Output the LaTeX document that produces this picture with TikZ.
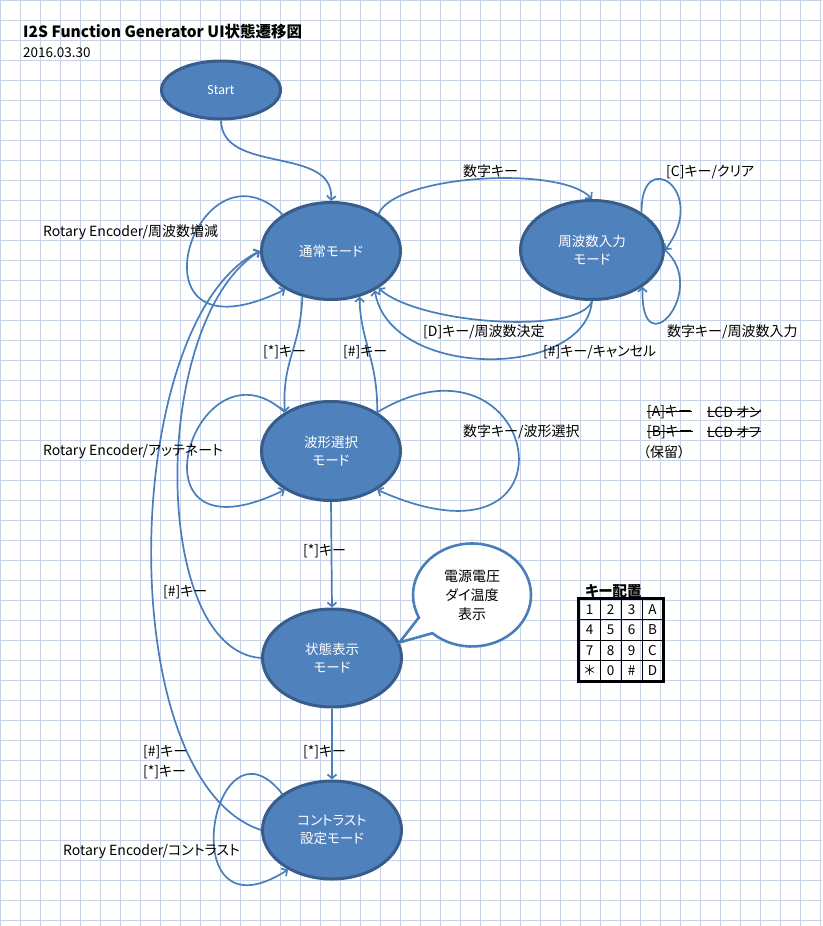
\documentclass[tikz,border=0pt]{standalone}
\usepackage{fontspec}
\setmainfont[RawFeature=+palt]{Noto Sans CJK JP}
\newfontfamily\startfont{Carlito}
\usetikzlibrary{shapes,shapes.geometric,shapes.callouts,arrows.meta,positioning}

\definecolor{gridblue}{HTML}{C8D2E6}
\definecolor{statefill}{HTML}{4F81BD}
\definecolor{stateline}{HTML}{385D8A}
\definecolor{linkblue}{HTML}{4A7EBB}

\newcommand\struck[1]{\setbox0\hbox{#1}\rlap{\rule[0.36em]{\wd0}{0.8pt}}\box0}

\begin{document}
\begin{tikzpicture}[x=1pt, y=-1pt,
        statenode/.style={ellipse, draw=stateline, fill=statefill, line width=3pt, text=white, inner sep=0pt, align=center, font=\fontsize{13.5}{18.6}\selectfont},
        link/.style={draw=linkblue, line width=1.7pt, -{Straight Barb[length=4pt,width=9pt]}},
        linklabel/.style={anchor=west, inner sep=0pt, font=\fontsize{14}{15}\selectfont},
        balloon/.style={ellipse callout, draw=linkblue, line width=2.6pt, fill=white, inner sep=0pt, align=center, font=\fontsize{14}{19}\selectfont},
        keycell/.style={draw, line width=0.9pt, minimum width=21pt, minimum height=20.5pt, inner sep=0pt, font=\fontsize{13.5}{15}\selectfont},
        ]

    % Background
    \useasboundingbox (0,0) rectangle (822,926);
    \fill[white] (0,0) rectangle (822,926);
    \draw[gridblue, line width=1pt] (0pt,-926pt) grid[step=20pt] (822pt,0pt);

    % Title
    \node[linklabel, font=\fontsize{15.5}{16}\selectfont\bfseries] (title) at (23,32) {I2S Function Generator UI状態遷移図};
    \node[linklabel, font=\fontsize{13.5}{15}\selectfont] (date) at (23,53) {2016.03.30};

    % Nodes
    \node[statenode, minimum width=119, minimum height=58, font=\fontsize{14}{15}\startfont] (start) at (221,90) {Start};
    \node[statenode, minimum width=139, minimum height=97] (normal) at (331,251) {通常モード};
    \node[statenode, minimum width=143, minimum height=99] (freq) at (592,250) {周波数入力\\モード};
    \node[statenode, minimum width=139, minimum height=99] (wave) at (331,451) {波形選択\\モード};
    \node[statenode, minimum width=139, minimum height=98] (status) at (332,658) {状態表示\\モード};
    \node[statenode, minimum width=139, minimum height=98] (contrast) at (332,830) {コントラスト\\設定モード};
    \node[balloon, minimum width=118, minimum height=103, callout absolute pointer={(status.13)}, callout pointer arc=22] (note) at (472,595) {電源電圧\\ダイ温度\\表示};

    % Lines
    \draw[link] (start.south) .. controls (222,175) and (335,145) .. (normal.north);
    \draw[link] (normal.38) .. controls (395,175) and (560,165) .. (freq.north);
    \draw[link] (freq.south) .. controls (580,335) and (420,325) .. (normal.-38);
    \draw[link] (freq.south) .. controls (585,380) and (390,380) .. (normal.-42);
    \draw[link] (freq.37) .. controls (640,145) and (710,190) .. (freq.east);
    \draw[link] (freq.east) .. controls (710,290) and (640,370) .. (freq.-36);
    \draw[link] (normal.143) .. controls (195,130) and (120,370) .. (normal.-140);
    \draw[link] (normal.-122) .. controls (300,350) and (282,360) .. (wave.140);
    \draw[link] (wave.40) .. controls (378,360) and (360,340) .. (normal.-58);
    \draw[link] (wave.140) .. controls (195,330) and (120,570) .. (wave.-140);
    \draw[link] (wave.40) .. controls (540,315) and (590,585) .. (wave.-40);
    \draw[link] (wave.south) -- (status.north);
    \draw[link] (status.south) -- (contrast.north);
    \draw[link] (status.west) .. controls (150,650) and (150,320) .. (normal.west);
    \draw[link] (contrast.west) .. controls (110,780) and (120,320) .. (normal.west);
    \draw[link] (contrast.144) .. controls (212,705) and (170,945) .. (contrast.-138);

    % Labels
    \node[linklabel] (l-num) at (463,171) {数字キー};
    \node[linklabel] (l-clear) at (666,172) {[C]キー/クリア};
    \node[linklabel] (l-input) at (667,332) {数字キー/周波数入力};
    \node[linklabel] (l-set) at (423,332) {[D]キー/周波数決定};
    \node[linklabel] (l-cancel) at (543,352) {[\#]キー/キャンセル};
    \node[linklabel] (l-rot1) at (43,232) {Rotary Encoder/周波数増減};
    \node[linklabel] (l-star1) at (263,352) {[*]キー};
    \node[linklabel] (l-hash1) at (343,352) {[\#]キー};
    \node[linklabel] (l-rot2) at (43,452) {Rotary Encoder/アッテネート};
    \node[linklabel] (l-wave) at (463,432) {数字キー/波形選択};
    \node[linklabel] (l-akey) at (647,412) {\struck{[A]キー}};
    \node[linklabel] (l-aon) at (707,412) {\struck{LCD オン}};
    \node[linklabel] (l-bkey) at (647,432) {\struck{[B]キー}};
    \node[linklabel] (l-boff) at (707,432) {\struck{LCD オフ}};
    \node[linklabel] (l-hold) at (643,452) {（保留）};
    \node[linklabel] (l-star2) at (303,551) {[*]キー};
    \node[linklabel] (l-hash2) at (163,592) {[\#]キー};
    \node[linklabel] (l-star3) at (303,752) {[*]キー};
    \node[linklabel] (l-hash3) at (143,752) {[\#]キー};
    \node[linklabel] (l-star4) at (143,772) {[*]キー};
    \node[linklabel] (l-rot3) at (63,852) {Rotary Encoder/コントラスト};

    % Key layout
    \node[linklabel, font=\fontsize{14.5}{15}\selectfont\bfseries] (keytitle) at (585,591) {キー配置};
    \foreach \key [count=\i from 0] in {1,2,3,A,4,5,6,B,7,8,9,C,＊,0,\#,D} {
        \pgfmathtruncatemacro\col{mod(\i,4)}
        \pgfmathtruncatemacro\row{int(\i/4)}
        \node[keycell] (key\i) at ({589.5+21*\col},{609.25+20.5*\row}) {\key};
    }
    \draw[line width=2.2pt] (key0.north west) rectangle (key15.south east);

\end{tikzpicture}
\end{document}
